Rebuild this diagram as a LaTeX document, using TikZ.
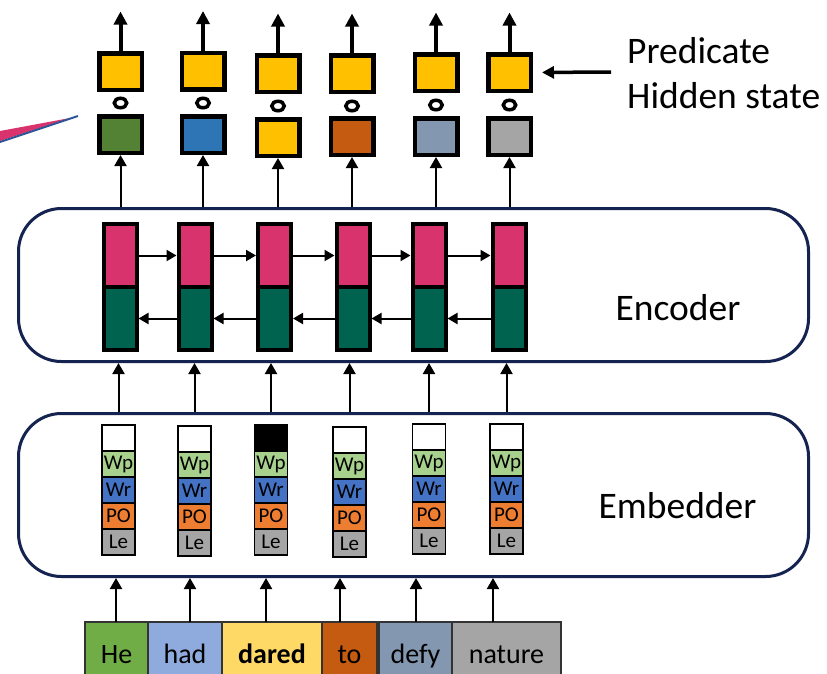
\documentclass[tikz,border=0pt]{standalone}
\usepackage{fontspec}
\setmainfont{Carlito}
\usetikzlibrary{arrows.meta,shapes.geometric}
\definecolor{ybox}{HTML}{FFC000}
\definecolor{hgreen}{HTML}{548235}
\definecolor{hblue}{HTML}{2E75B6}
\definecolor{horange}{HTML}{C55A11}
\definecolor{hslate}{HTML}{8497B0}
\definecolor{hgray}{HTML}{A5A5A5}
\definecolor{pinkc}{HTML}{D9336E}
\definecolor{greenc}{HTML}{00634F}
\definecolor{wpc}{HTML}{A9D18E}
\definecolor{wrc}{HTML}{4472C4}
\definecolor{poc}{HTML}{ED7D31}
\definecolor{navy}{HTML}{14234F}
\definecolor{whe}{HTML}{70AD47}
\definecolor{whad}{HTML}{8FAADC}
\definecolor{wdared}{HTML}{FFD966}
\definecolor{wedgeblue}{HTML}{2F5597}
\tikzset{
  hbox/.style={draw=black, line width=4.5pt, minimum width=42.5pt, minimum height=36.5pt, inner sep=0pt},
  ring/.style={draw=black, ellipse, line width=3.5pt, minimum width=12.5pt, minimum height=9.5pt, inner sep=0pt},
  enccell/.style={draw=black, line width=4pt, minimum width=33pt, minimum height=63pt, inner sep=0pt},
  seg/.style={draw=black, line width=1.8pt, minimum width=33pt, minimum height=26pt, inner sep=0pt, font=\fontsize{21}{21}\selectfont},
  layer/.style={draw=navy, line width=3pt, rounded corners=43pt, minimum width=790pt},
  bigtxt/.style={font=\fontsize{37.5}{45}\selectfont, inner sep=0pt},
  word/.style={draw=black!80, line width=1.2pt, minimum height=58pt, inner sep=0pt, text height=34pt, text depth=10pt, font=\fontsize{28}{28}\selectfont},
  thickarrow/.style={line width=4pt, -{Triangle[length=13pt,width=13pt]}},
  thinarrow/.style={line width=2pt, -{Triangle[length=11pt,width=12pt]}},
  harrow/.style={line width=2pt, -{Triangle[length=10pt,width=11pt]}}
}
\begin{document}
\begin{tikzpicture}[x=1pt,y=-1pt]
\useasboundingbox (0,0) rectangle (827,673);
\clip (0,0) rectangle (827,673);

% wedge at left
\fill[pinkc] (0,131) -- (70,118) -- (0,141) -- cycle;
\draw[wedgeblue, line width=2pt] (0,142) -- (78,116);

% layers
\node[layer, minimum height=153pt] (enc) at (413.5,285) {};
\node[layer, minimum height=163pt] (emb) at (413.5,495) {};
\node[bigtxt, anchor=base] at (678,320) {Encoder};
\node[bigtxt, anchor=base] at (677.5,518) {Embedder};

% top row
\foreach \i/\x/\yt/\yb/\yc/\col in {1/120.5/71.5/134.5/103/hgreen, 2/203/71/134.5/103/hblue, 3/278/73.5/137.5/106/ybox, 4/352/73.5/136.5/106/horange, 5/436/72.5/136.5/105/hslate, 6/509.5/72.5/136.5/105/hgray}{
  \node[hbox, fill=ybox] (t\i) at (\x,\yt) {};
  \node[hbox, fill=\col] (b\i) at (\x,\yb) {};
  \node[ring] (r\i) at (\x,\yc) {};
  \coordinate (o\i) at (\x,\yt-60);
  \draw[thickarrow] (t\i.north) -- (o\i);
  \draw[thinarrow] (enc.north -| b\i) -- (b\i.south);
}

% predicate label
\coordinate (pa) at (611,72);
\draw[line width=3.5pt, -{Triangle[length=12pt,width=12pt]}, shorten >=9pt] (pa) -- (t6.east);
\node[bigtxt, anchor=base west, align=left] (pred) at (627,108) {Predicate\\Hidden state};

% encoder cells
\foreach \i/\x in {1/120, 2/195, 3/274.5, 4/353, 5/429, 6/509}{
  \node[enccell, fill=pinkc] (p\i) at (\x,255.5) {};
  \node[enccell, fill=greenc] (g\i) at (\x,318.5) {};
}
\foreach \i/\j in {1/2,2/3,3/4,4/5,5/6}{
  \draw[harrow] (p\i.east) -- (p\j.west);
  \draw[harrow] (g\j.west) -- (g\i.east);
}

% embedder cells
\foreach \i/\x/\y/\topc in {1/118.5/424/white, 2/194.5/425/white, 3/271/424/black, 4/349.5/426/white, 5/429/423/white, 6/506.5/423/white}{
  \node[seg, fill=\topc] (e\i-1) at (\x,\y+14) {};
  \node[seg, fill=wpc] (e\i-2) at (\x,\y+40) {Wp};
  \node[seg, fill=wrc] (e\i-3) at (\x,\y+66) {Wr};
  \node[seg, fill=poc] (e\i-4) at (\x,\y+92) {PO};
  \node[seg, fill=hgray] (e\i-5) at (\x,\y+118) {Le};
  \draw[thinarrow] (emb.north -| e\i-1) -- (enc.south -| e\i-1);
}

% words
\node[word, fill=whe, minimum width=63pt] (w1) at (116.5,651) {He};
\node[word, fill=whad, minimum width=74pt] (w2) at (185,651) {had};
\node[word, fill=wdared, minimum width=100pt] (w3) at (272,651) {\bfseries dared};
\node[word, fill=horange, minimum width=55pt] (w4) at (349.5,651) {to};
\node[word, fill=hslate, minimum width=73pt] (w5) at (415.5,651) {defy};
\node[word, fill=hgray, minimum width=109pt] (w6) at (506.5,651) {nature};
\foreach \i/\x in {1/116, 2/190, 3/266, 4/340, 5/416, 6/493}{
  \coordinate (wa\i) at (\x,622);
  \draw[thinarrow] (wa\i) -- (emb.south -| wa\i);
}
\end{tikzpicture}
\end{document}
